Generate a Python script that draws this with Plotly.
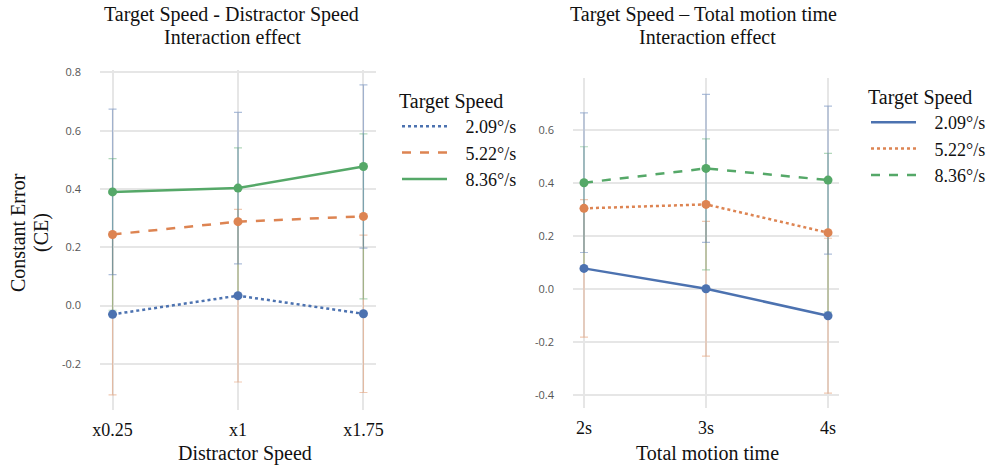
import plotly.graph_objects as go

# ---- data -------------------------------------------------------------
speed_labels = ["2.09°/s", "5.22°/s", "8.36°/s"]

distractor_cats = ["x0.25", "x1", "x1.75"]
ds_mean_209 = [-0.030, 0.034, -0.028]
ds_mean_522 = [0.244, 0.288, 0.306]
ds_mean_836 = [0.390, 0.403, 0.477]
ds_err_209 = [0.276, 0.296, 0.270]
ds_err_522 = [0.260, 0.253, 0.283]
ds_err_836 = [0.284, 0.260, 0.280]

motion_cats = ["2s", "3s", "4s"]
tm_mean_209 = [0.078, 0.001, -0.101]
tm_mean_522 = [0.305, 0.320, 0.213]
tm_mean_836 = [0.402, 0.456, 0.412]
tm_err_209 = [0.260, 0.255, 0.293]
tm_err_522 = [0.233, 0.248, 0.300]
tm_err_836 = [0.264, 0.280, 0.280]

left_yticks = [0.8, 0.6, 0.4, 0.2, 0.0, -0.2]
left_yticktext = ["0.8", "0.6", "0.4", "0.2", "0.0", "-0.2"]
right_yticks = [0.6, 0.4, 0.2, 0.0, -0.2, -0.4]
right_yticktext = ["0.6", "0.4", "0.2", "0.0", "-0.2", "-0.4"]

# ---- styling ----------------------------------------------------------
BLUE, ORANGE, GREEN = "#4c72b0", "#dd8452", "#55a868"
BAR = {BLUE: "rgba(76,114,176,0.45)", ORANGE: "rgba(221,132,82,0.45)",
       GREEN: "rgba(85,168,104,0.45)"}
SERIF = "Liberation Serif"
SANS = "Open Sans"
PAD = "\u00a0" * 3  # gap between legend swatch and label

fig = go.Figure()


def add_panel(cats, means, errs, colors, bar_colors, dashes, xa, ya, legend):
    # error bars first so the lines sit on top
    for m, e, bc in zip(means, errs, bar_colors):
        fig.add_trace(go.Scatter(
            x=cats, y=m, mode="markers", xaxis=xa, yaxis=ya,
            marker=dict(size=1, opacity=0), showlegend=False, hoverinfo="skip",
            error_y=dict(type="data", array=e, visible=True, color=BAR[bc],
                         thickness=1.2, width=4)))
    for name, m, c, d in zip(speed_labels, means, colors, dashes):
        fig.add_trace(go.Scatter(
            x=cats, y=m, mode="lines+markers", xaxis=xa, yaxis=ya,
            line=dict(color=c, width=2.5, dash=d),
            marker=dict(color=c, size=9), showlegend=False, name=name))
        # line-only legend entry
        fig.add_trace(go.Scatter(
            x=[None], y=[None], mode="lines", xaxis=xa, yaxis=ya,
            line=dict(color=c, width=2.5, dash=d), name=PAD + name,
            legend=legend, showlegend=True))


add_panel(distractor_cats, [ds_mean_209, ds_mean_522, ds_mean_836],
          [ds_err_209, ds_err_522, ds_err_836],
          [BLUE, ORANGE, GREEN], [ORANGE, GREEN, BLUE],
          ["dot", "dash", "solid"], "x", "y", "legend")
add_panel(motion_cats, [tm_mean_209, tm_mean_522, tm_mean_836],
          [tm_err_209, tm_err_522, tm_err_836],
          [BLUE, ORANGE, GREEN], [ORANGE, GREEN, BLUE],
          ["solid", "dot", "dash"], "x2", "y2", "legend2")

W, H = 993, 468
grid = "#e6e6e6"
xcommon = dict(type="category", showgrid=True, gridcolor=grid, gridwidth=1.5,
               zeroline=False, showline=False, ticks="", automargin=False,
               ticklabelstandoff=7,
               tickfont=dict(family=SERIF, size=18, color="#111"))
ycommon = dict(showgrid=True, gridcolor=grid, gridwidth=1.5, zeroline=False,
               showline=False, ticks="", ticklabelstandoff=18, automargin=False,
               tickfont=dict(family=SANS, size=11, color="#555"))

legend_common = dict(font=dict(family=SERIF, size=18, color="#111"),
                     bgcolor="rgba(0,0,0,0)", itemwidth=45,
                     tracegroupgap=0, xanchor="left", yanchor="top")

fig.update_layout(
    width=W, height=H, margin=dict(l=0, r=0, t=0, b=0),
    plot_bgcolor="white", paper_bgcolor="white",
    xaxis=dict(xcommon, domain=[100 / W, 376 / W], range=[-0.1, 2.1], anchor="y"),
    yaxis=dict(ycommon, domain=[1 - 410 / H, 1 - 70 / H], range=[-0.358, 0.808],
               tickvals=left_yticks, ticktext=left_yticktext, anchor="x"),
    xaxis2=dict(xcommon, domain=[573 / W, 839 / W], range=[-0.09, 2.09], anchor="y2"),
    yaxis2=dict(ycommon, domain=[1 - 408 / H, 1 - 78 / H], range=[-0.45, 0.798],
                tickvals=right_yticks, ticktext=right_yticktext, anchor="x2"),
    legend=dict(legend_common, x=397 / W, y=1 - 82 / H,
                title=dict(text="Target Speed", font=dict(family=SERIF, size=20))),
    legend2=dict(legend_common, x=866 / W, y=1 - 78 / H,
                 title=dict(text="Target Speed", font=dict(family=SERIF, size=20))),
)


def note(text, x, y, size, angle=0):
    fig.add_annotation(text=text, x=x / W, y=1 - y / H, xref="paper", yref="paper",
                       showarrow=False, textangle=angle, xanchor="center",
                       yanchor="middle", font=dict(family=SERIF, size=size, color="#111"))


note("Target Speed - Distractor Speed", 231, 15, 20)
note("Interaction effect", 232, 37, 20)
note("Target Speed – Total motion time", 703, 15, 20)
note("Interaction effect", 707, 37, 20)
note("Distractor Speed", 245, 453, 20)
note("Total motion time", 707, 453, 20)
note("Constant Error", 18, 233, 20, angle=-90)
note("(CE)", 41, 233, 20, angle=-90)

fig.write_html("out.html")
